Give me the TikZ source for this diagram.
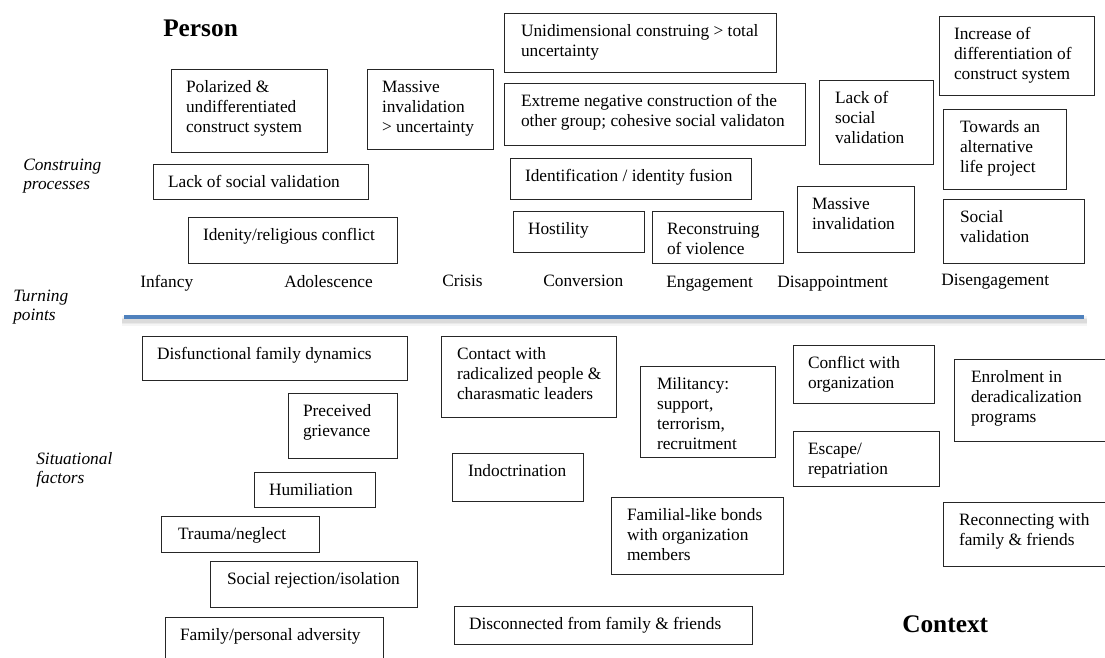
\documentclass[tikz,border=0pt]{standalone}
\usepackage{fontspec}
\setmainfont{Liberation Serif}
\definecolor{axisblue}{RGB}{79,129,189}

% A framed box (#1 name, corners (#2,#3)-(#4,#5)) with its text set
% flush left, #6 px in from the left edge, first baseline near the top.
\newcommand\boxedlabel[7]{%
  \node[tbox, minimum width={(#4-#2)*0.75pt}, minimum height={(#5-#3)*0.75pt}]
    (#1) at ({(#2+#4)/2},{(#3+#5)/2}) {};
  \node[tlab] (#1-text) at ({#2+#6},{#3+23.5})
    {\begin{tabular}[t]{@{}l@{}}#7\end{tabular}};
}

\begin{document}
\begin{tikzpicture}[
    x=0.75pt, y=-0.75pt,
    tbox/.style={draw=black!85, line width=0.65pt, fill=none,
                 inner sep=0pt, outer sep=0pt},
    tlab/.style={anchor=base west, inner sep=0pt, outer sep=0pt,
                 font=\fontsize{13}{14.9}\selectfont},
    stage/.style={anchor=base west, inner sep=0pt,
                  font=\fontsize{13}{14.8}\selectfont},
    side/.style={anchor=base west, inner sep=0pt,
                 font=\fontsize{13}{14.3}\selectfont\itshape},
    heading/.style={anchor=base west, inner sep=0pt,
                    font=\fontsize{19}{22}\selectfont\bfseries},
  ]
  \useasboundingbox (0,0) rectangle (1105,657);
  \clip (0,0) rectangle (1105,657);

  % headings
  \node[heading] (person) at (163,36) {Person};
  \node[heading] (context) at (902,632) {Context};

  % row labels
  \node[side] (construing) at (23,170)
    {\begin{tabular}[t]{@{}l@{}}Construing\\processes\end{tabular}};
  \node[side] (turning) at (13,301)
    {\begin{tabular}[t]{@{}l@{}}Turning\\points\end{tabular}};
  \node[side] (situational) at (36,464)
    {\begin{tabular}[t]{@{}l@{}}Situational\\factors\end{tabular}};

  % construing processes
  \boxedlabel{polar}{171}{69}{327}{152}{15}{Polarized \&\\undifferentiated\\construct system}
  \boxedlabel{massunc}{367}{69}{493}{149}{15}{Massive\\invalidation\\> uncertainty}
  \boxedlabel{lacka}{153}{164}{368}{199}{15}{Lack of social validation}
  \boxedlabel{idconf}{188}{217}{397}{263}{15}{Idenity/religious conflict}
  \boxedlabel{unidim}{504}{13}{776}{72}{17}{Unidimensional construing > total\\uncertainty}
  \boxedlabel{extreme}{504}{83}{805}{145}{17}{Extreme negative construction of the\\other group; cohesive social validaton}
  \boxedlabel{ident}{510}{158}{751}{199}{15}{Identification / identity fusion}
  \boxedlabel{host}{513}{211}{644}{252}{15}{Hostility}
  \boxedlabel{recon}{652}{211}{783}{263}{15}{Reconstruing\\of violence}
  \boxedlabel{lackb}{819}{80}{933}{164}{16}{Lack of\\social\\validation}
  \boxedlabel{massinv}{797}{186}{914}{252}{15}{Massive\\invalidation}
  \boxedlabel{incr}{939}{16}{1094}{95}{15}{Increase of\\differentiation of\\construct system}
  \boxedlabel{towards}{943}{109}{1066}{189}{17}{Towards an\\alternative\\life project}
  \boxedlabel{socval}{943}{199}{1084}{263}{17}{Social\\validation}

  % turning points
  \node[stage] (infancy) at (140,287) {Infancy};
  \node[stage] (adolescence) at (284,287) {Adolescence};
  \node[stage] (crisis) at (442,286) {Crisis};
  \node[stage] (conversion) at (543,286) {Conversion};
  \node[stage] (engagement) at (666,287) {Engagement};
  \node[stage] (disappointment) at (777,287) {Disappointment};
  \node[stage] (disengagement) at (941,285) {Disengagement};

  % time axis with its soft shadow
  \coordinate (axis-l) at (124,317);
  \coordinate (axis-r) at (1084,317);
  \coordinate (shadow-l) at (122,321);
  \coordinate (shadow-r) at (1087,321);
  \draw[line width=7.5pt, black, opacity=0.04] (shadow-l) -- (shadow-r);
  \draw[line width=5pt, black, opacity=0.05] (shadow-l) -- (shadow-r);
  \draw[line width=3pt, black, opacity=0.06] (shadow-l) -- (shadow-r);
  \draw[line width=2.4pt, axisblue] (axis-l) -- (axis-r);

  % situational factors
  \boxedlabel{disfam}{142}{336}{407}{380}{15}{Disfunctional family dynamics}
  \boxedlabel{griev}{288}{393}{397}{458}{15}{Preceived\\grievance}
  \boxedlabel{humil}{254}{472}{375}{507}{15}{Humiliation}
  \boxedlabel{trauma}{161}{516}{319}{552}{17}{Trauma/neglect}
  \boxedlabel{reject}{210}{561}{417}{607}{17}{Social rejection/isolation}
  \boxedlabel{advers}{165}{617}{383}{668}{15}{Family/personal adversity}
  \boxedlabel{contact}{441}{336}{616}{417}{16}{Contact with\\radicalized people \&\\charasmatic leaders}
  \boxedlabel{indoc}{452}{453}{583}{501}{16}{Indoctrination}
  \boxedlabel{discon}{454}{606}{752}{644}{15}{Disconnected from family \& friends}
  \boxedlabel{milit}{640}{366}{775}{457}{17}{Militancy:\\support,\\terrorism,\\recruitment}
  \boxedlabel{bonds}{611}{497}{783}{574}{16}{Familial-like bonds\\with organization\\members}
  \boxedlabel{conflict}{793}{345}{934}{403}{15}{Conflict with\\organization}
  \boxedlabel{escape}{793}{431}{939}{486}{15}{Escape/\\repatriation}
  \boxedlabel{enrol}{954}{359}{1112}{441}{17}{Enrolment in\\deradicalization\\programs}
  \boxedlabel{reconn}{943}{502}{1112}{566}{16}{Reconnecting with\\family \& friends}
\end{tikzpicture}
\end{document}
